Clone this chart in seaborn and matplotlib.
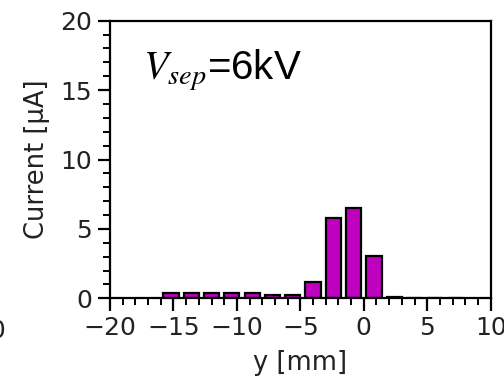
import matplotlib
matplotlib.use("Agg")
import matplotlib.pyplot as plt
from matplotlib.ticker import AutoMinorLocator, MultipleLocator
import seaborn as sns
import pandas as pd

# Data
positions_mm = [-15.2, -13.6, -12.0, -10.4, -8.8, -7.2, -5.6, -4.0, -2.4, -0.8, 0.8, 2.4, 4.0, 5.6, 7.2]
current_uA = [0.35, 0.35, 0.35, 0.35, 0.35, 0.25, 0.25, 1.2, 5.8, 6.5, 3.05, 0.1, 0.02, 0.02, 0.02]
x_label = "y [mm]"
y_label = "Current [μA]"
annotation = "$V_{sep}$=6kV"

df = pd.DataFrame({"y": positions_mm, "current": current_uA})

sns.set_style("ticks")
plt.rcParams["font.family"] = ["DejaVu Sans"]
plt.rcParams["mathtext.fontset"] = "stix"
plt.rcParams["text.color"] = "#222222"
plt.rcParams["axes.labelcolor"] = "#222222"
plt.rcParams["xtick.color"] = "black"
plt.rcParams["ytick.color"] = "black"
plt.rcParams["xtick.labelcolor"] = "#222222"
plt.rcParams["ytick.labelcolor"] = "#222222"

fig = plt.figure(figsize=(5.04, 3.83), dpi=100)
ax = fig.add_axes([110 / 504, 1 - 298.3 / 383, (490.7 - 110) / 504, (298.3 - 20.7) / 383])

sns.barplot(data=df, x="y", y="current", native_scale=True, color="#BF00BF",
            saturation=1, edgecolor="black", linewidth=1.6, width=0.75, ax=ax)

ax.set_xlim(-20, 10)
ax.set_ylim(0, 20)
ax.xaxis.set_major_locator(MultipleLocator(5))
ax.yaxis.set_major_locator(MultipleLocator(5))
ax.xaxis.set_minor_locator(AutoMinorLocator(5))
ax.yaxis.set_minor_locator(AutoMinorLocator(5))
ax.tick_params(which="major", length=9, width=1.6, labelsize=18, direction="out", pad=4)
ax.tick_params(which="minor", length=5, width=1.4, direction="out")
for s in ax.spines.values():
    s.set_visible(True)
    s.set_linewidth(1.6)
    s.set_color("black")

ax.set_xlabel(x_label, fontsize=18.5, labelpad=7)
ax.set_ylabel(y_label, fontsize=18.5, labelpad=7)

fig.text(143 / 504, 1 - 80 / 383, annotation, fontsize=29, family=["Liberation Sans"],
         color="black", ha="left", va="baseline")

# clipped label from a neighbouring panel at the left edge
fig.text(6 / 504, 1 - 338 / 383, "10", fontsize=18, ha="right", va="baseline")

fig.savefig("out.png", dpi=100)
